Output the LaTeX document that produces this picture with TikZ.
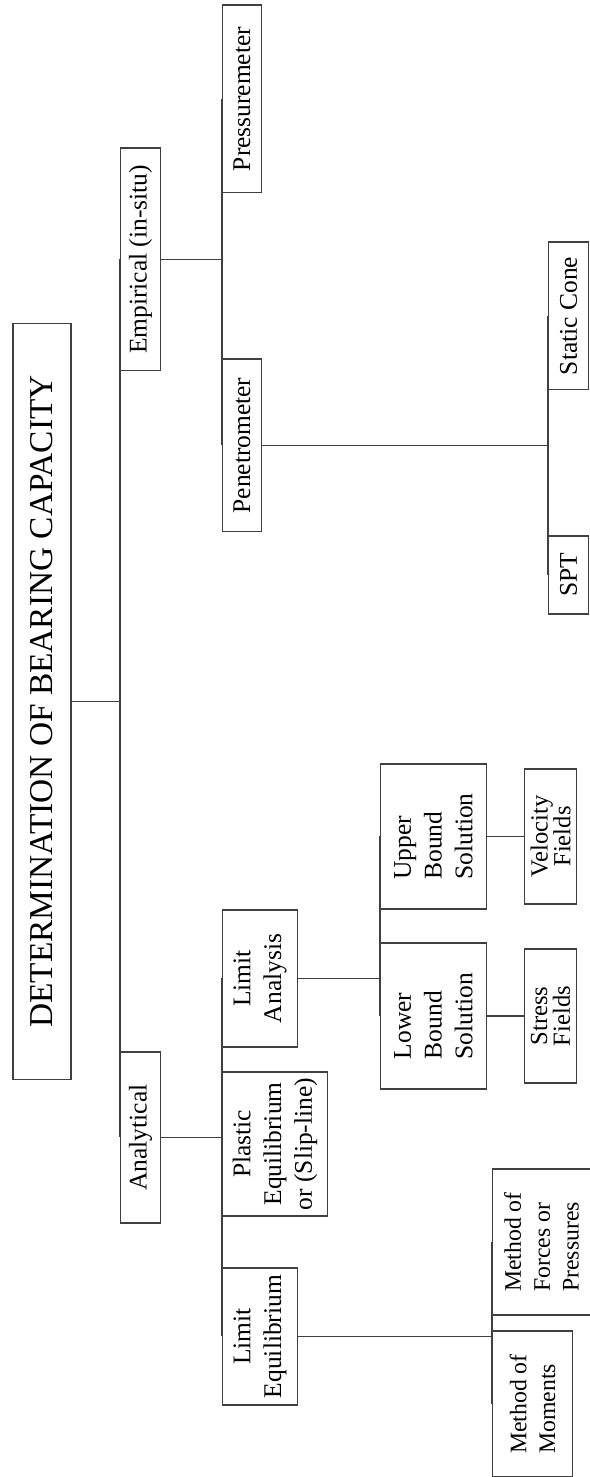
\documentclass[tikz,border=0pt]{standalone}
\usepackage{fontspec}
\setmainfont{Liberation Serif}
\usetikzlibrary{positioning}

\begin{document}
\begin{tikzpicture}[
    x=0.02cm, y=0.02cm,
    box/.style={draw=black!75, line width=0.6pt, inner sep=1pt, align=center,
                font=\fontsize{14.5}{17.5}\selectfont},
    title/.style={box, font=\fontsize{19}{23}\selectfont},
    small/.style={box, font=\fontsize{14}{13}\selectfont},
    wire/.style={draw=black!75, line width=0.6pt}
  ]
  \begin{scope}[rotate=90, transform shape]
    \useasboundingbox (0,0) rectangle (1477,590);

    %% Root
    \node[title, minimum width=15.14cm, minimum height=1.16cm] (root) at (775.5,548)
      {DETERMINATION OF BEARING CAPACITY};

    %% Level 1
    \node[box, anchor=north, minimum width=3.42cm, minimum height=0.8cm] (ana) at (339.5,470) {Analytical};
    \node[box, anchor=north, minimum width=4.46cm, minimum height=0.8cm] (emp) at (1217.5,470) {Empirical (in-situ)};

    %% Level 2: analytical branch
    \node[box, anchor=north, minimum width=2.74cm, minimum height=1.5cm] (limeq) at (140.5,368) {Limit\\Equilibrium};
    \node[box, anchor=north, minimum width=2.88cm, minimum height=2.1cm] (plastic) at (333,368) {Plastic\\Equilibrium\\or (Slip-line)};
    \node[box, anchor=north, minimum width=2.74cm, minimum height=1.5cm] (liman) at (498.5,368) {Limit\\Analysis};

    %% Level 2: empirical branch
    \node[box, anchor=north, minimum width=3.46cm, minimum height=0.78cm] (pen) at (1031.5,368) {Penetrometer};
    \node[box, anchor=north, minimum width=3.76cm, minimum height=0.78cm] (press) at (1378,368) {Pressuremeter};

    %% Level 3: limit analysis
    \node[box, anchor=north, align=left, minimum width=2.92cm, minimum height=2.12cm] (lower) at (461,210) {Lower\\Bound\\Solution};
    \node[box, anchor=north, align=left, minimum width=2.9cm, minimum height=2.12cm] (upper) at (640.5,210) {Upper\\Bound\\Solution};
    \node[small, minimum width=2.68cm, minimum height=1.04cm, below=0.74cm of lower] (stress) {Stress\\Fields};
    \node[small, minimum width=2.7cm, minimum height=1.04cm, below=0.74cm of upper] (velo) {Velocity\\Fields};

    %% Level 3: limit equilibrium
    \node[box, anchor=north, align=left, font=\fontsize{13.5}{16.5}\selectfont,
          minimum width=2.92cm, minimum height=1.6cm] (moments) at (73,98) {Method of\\Moments};
    \node[box, anchor=north, align=left, font=\fontsize{13.5}{16.5}\selectfont,
          minimum width=2.92cm, minimum height=1.96cm] (forces) at (235,98) {Method of\\Forces or\\Pressures};

    %% Level 3: penetrometer
    \node[box, anchor=north, minimum width=1.56cm, minimum height=0.8cm] (spt) at (902,42) {SPT};
    \node[box, anchor=north, minimum width=2.96cm, minimum height=0.8cm] (cone) at (1161,42) {Static Cone};

    %% Connectors
    \draw[wire] (root.south) -- ++(0,-23) |- (ana.north);
    \draw[wire] (root.south) -- ++(0,-23) |- (emp.north);

    \draw[wire] (ana.south) -- ++(0,-40) |- (limeq.north);
    \draw[wire] (ana.south) -- ++(0,-40) |- (plastic.north);
    \draw[wire] (ana.south) -- ++(0,-40) |- (liman.north);

    \draw[wire] (emp.south) -- ++(0,-40) |- (pen.north);
    \draw[wire] (emp.south) -- ++(0,-40) |- (press.north);

    \draw[wire] (liman.south) -- ++(0,-62) |- (lower.north);
    \draw[wire] (liman.south) -- ++(0,-62) |- (upper.north);
    \draw[wire] (lower) -- (stress);
    \draw[wire] (upper) -- (velo);

    \draw[wire] (limeq.south) -- ++(0,-174) |- (moments.north);
    \draw[wire] (limeq.south) -- ++(0,-174) |- (forces.north);

    \draw[wire] (pen.south) -- ++(0,-257) |- (spt.north);
    \draw[wire] (pen.south) -- ++(0,-257) |- (cone.north);
  \end{scope}
\end{tikzpicture}
\end{document}
